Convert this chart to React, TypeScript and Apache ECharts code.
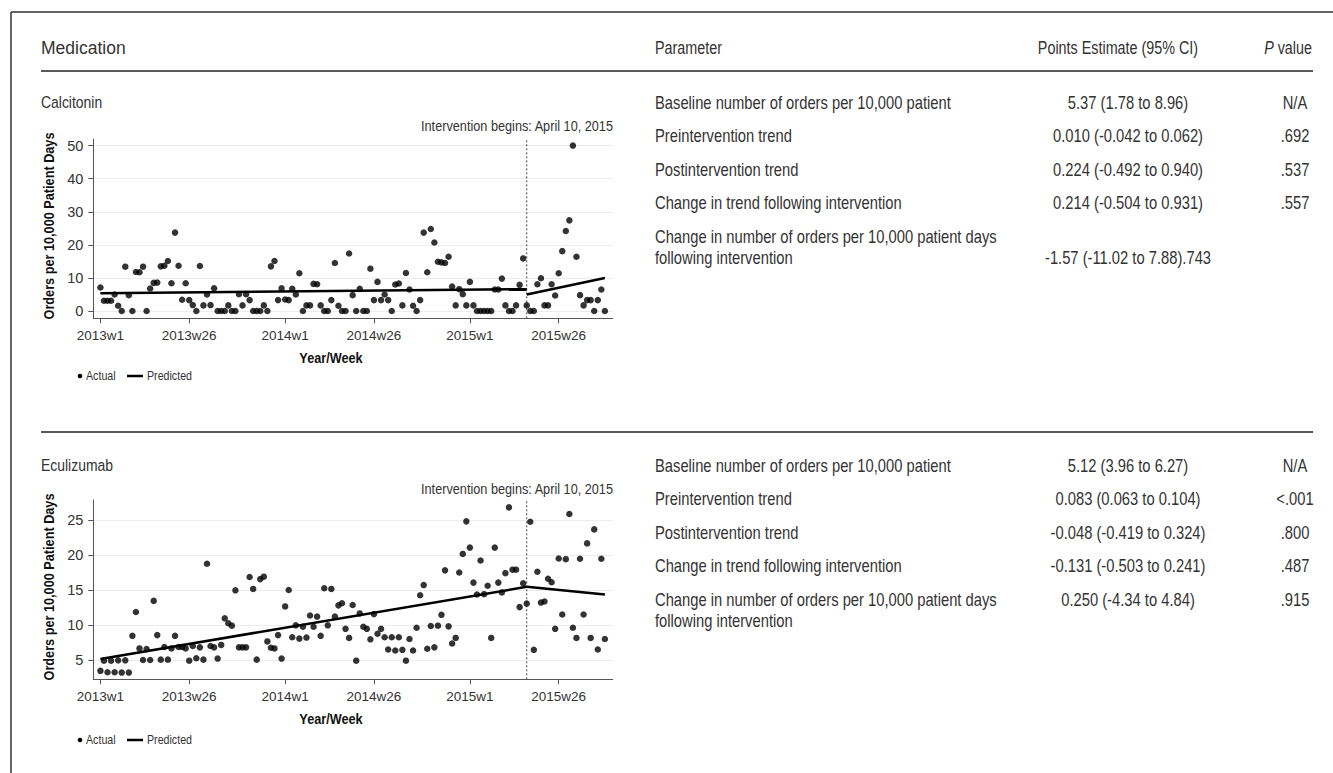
import React, { useEffect, useRef } from "react";
import * as echarts from "echarts";

// ---------- data ----------
const tickWeeks = [0, 25, 52, 77, 104, 129];
const tickLabels = ["2013w1", "2013w26", "2014w1", "2014w26", "2015w1", "2015w26"];
const interventionWeek = 120;

const calcYTicks = [0, 10, 20, 30, 40, 50];
const ecuYTicks = [5, 10, 15, 20, 25];

// weekly values, index 0 = 2013w1
const calcitoninActual = [
  7.1, 3.1, 3.1, 3.1, 5.0, 1.6, 0, 13.4, 4.8, 0, 11.8, 11.7, 13.4, 0, 6.8, 8.5, 8.6, 13.5, 13.7, 15.1,
  8.4, 23.7, 13.7, 3.4, 8.4, 3.3, 1.8, 0, 13.6, 1.7, 5.0, 1.8, 6.9, 0, 0, 0, 1.7, 0, 0, 5.1,
  1.7, 5.1, 3.3, 0, 0, 0, 1.7, 0, 13.5, 15.1, 3.3, 6.9, 3.5, 3.3, 6.7, 5.0, 11.4, 0, 1.7, 1.7,
  8.2, 8.1, 1.7, 0, 0, 3.3, 14.5, 1.6, 0, 0, 17.4, 4.8, 0, 6.7, 0, 0, 12.8, 3.3, 8.8, 3.3,
  5.0, 3.3, 0, 8.0, 8.3, 1.7, 11.5, 6.5, 1.6, 0, 3.3, 23.7, 11.7, 24.8, 20.7, 14.9, 14.7, 14.5, 16.4, 7.4,
  1.7, 6.6, 5.1, 1.7, 8.8, 1.7, 0, 0, 0, 0, 0, 6.5, 6.5, 9.8, 1.7, 0, 0, 1.7, 7.9, 15.9,
  1.7, 0, 0, 8.1, 9.9, 1.7, 1.7, 8.1, 4.7, 11.4, 18.1, 24.2, 27.4, 50.0, 16.4, 4.8, 1.7, 3.3, 3.3, 0,
  3.3, 6.5, 0,
];
const calcitoninPredPre = [[0, 5.4], [120, 6.6]];
const calcitoninPredPost = [[120, 5.0], [142, 10.0]];

const eculizumabActual = [
  3.5, 4.95, 3.3, 4.95, 3.3, 5.0, 3.25, 5.0, 3.25, 8.5, 11.9, 6.7, 5.05, 6.6, 5.05, 13.5, 8.6, 5.1, 6.9, 5.1,
  6.7, 8.5, 6.9, 6.9, 6.7, 4.95, 7.05, 5.3, 6.85, 5.1, 18.8, 7.05, 6.85, 5.25, 7.2, 11.0, 10.3, 9.95, 15.0, 6.85,
  6.85, 6.85, 16.9, 15.2, 5.1, 16.6, 16.95, 7.7, 6.8, 6.7, 8.6, 5.25, 12.7, 15.05, 8.3, 10.0, 8.1, 9.8, 8.25, 11.4,
  9.8, 11.25, 8.5, 15.3, 10.0, 15.2, 11.25, 12.85, 13.15, 9.5, 8.2, 12.9, 4.95, 11.7, 9.8, 9.5, 8.0, 11.6, 8.8, 9.5,
  8.3, 6.55, 8.3, 6.4, 8.3, 6.5, 4.95, 8.05, 6.4, 9.65, 14.3, 15.75, 6.65, 9.9, 6.85, 9.95, 11.5, 17.85, 9.85, 7.4,
  8.2, 17.55, 20.2, 24.85, 21.1, 16.1, 14.4, 19.25, 14.45, 15.65, 8.2, 21.1, 16.1, 14.7, 17.45, 26.85, 17.95, 17.95, 12.6, 16.0,
  13.1, 24.8, 6.5, 17.65, 13.25, 13.4, 16.65, 16.15, 9.5, 19.55, 11.55, 19.45, 25.9, 9.65, 8.2, 19.5, 11.55, 21.7, 8.2, 23.7,
  6.55, 19.5, 8.05,
];
const eculizumabPredPre = [[0, 5.2], [120, 15.5]];
const eculizumabPredPost = [[120, 15.5], [142, 14.4]];

const headers = ["Medication", "Parameter", "Points Estimate (95% CI)", "{i|P} value"];
const parameters = [
  "Baseline number of orders per 10,000 patient",
  "Preintervention trend",
  "Postintervention trend",
  "Change in trend following intervention",
  "Change in number of orders per 10,000 patient days\nfollowing intervention",
];
const calcEstimates = ["5.37 (1.78 to 8.96)", "0.010 (-0.042 to 0.062)", "0.224 (-0.492 to 0.940)", "0.214 (-0.504 to 0.931)", "-1.57 (-11.02 to 7.88).743"];
const calcP = ["N/A", ".692", ".537", ".557", ""];
const ecuEstimates = ["5.12 (3.96 to 6.27)", "0.083 (0.063 to 0.104)", "-0.048 (-0.419 to 0.324)", "-0.131 (-0.503 to 0.241)", "0.250 (-4.34 to 4.84)"];
const ecuP = ["N/A", "<.001", ".800", ".487", ".915"];

const FONT = "'Liberation Sans', Arial, Helvetica, sans-serif";
const TXT = "#333";
const NARROW_SCALE = 0.82;

function txt(x: number, y: number, text: string, size: number, opts: any = {}) {
  return {
    type: "text",
    x,
    y,
    rotation: opts.rotation || 0,
    scaleX: opts.regular ? 1 : NARROW_SCALE,
    silent: true,
    style: {
      text,
      fill: opts.fill || TXT,
      font: `${opts.weight || "normal"} ${size}px ${FONT}`,
      textAlign: opts.align || "left",
      textVerticalAlign: "middle",
      rich: opts.rich,
    },
  };
}

function line(x1: number, y1: number, x2: number, y2: number, w: number, color = "#222") {
  return { type: "line", silent: true, shape: { x1, y1, x2, y2 }, style: { stroke: color, lineWidth: w } };
}

export default function App() {
  const ref = useRef<HTMLDivElement>(null);
  useEffect(() => {
    if (!ref.current) return;
    const chart = echarts.init(ref.current, null, { renderer: "svg" });

    const gridLeft = 93.3;
    const gridW = 519.4;
    const xMin = -2;
    const xMax = 144.2;

    const mkX = (gi: number) => ({
      type: "value",
      gridIndex: gi,
      min: xMin,
      max: xMax,
      axisLine: { show: true, onZero: false, lineStyle: { color: "#555", width: 1 } },
      axisTick: { show: true, length: 5, lineStyle: { color: "#555" }, customValues: tickWeeks },
      axisLabel: {
        customValues: tickWeeks,
        formatter: (v: number) => tickLabels[tickWeeks.indexOf(Math.round(v))] || "",
        fontSize: 13.5,
        color: TXT,
        margin: 10,
        fontFamily: FONT,
      },
      splitLine: { show: false },
    });
    const mkY = (gi: number, min: number, max: number, ticks: number[]) => ({
      type: "value",
      gridIndex: gi,
      min,
      max,
      axisLine: { show: true, onZero: false, lineStyle: { color: "#555", width: 1 } },
      axisTick: { show: true, length: 5, lineStyle: { color: "#555" }, customValues: ticks },
      axisLabel: { customValues: ticks, fontSize: 14.5, color: TXT, margin: 10, fontFamily: FONT },
      splitLine: { show: true, lineStyle: { color: "#ececec", width: 1 } },
    });

    const scatter = (gi: number, vals: number[]) => ({
      type: "scatter",
      xAxisIndex: gi,
      yAxisIndex: gi,
      symbolSize: 6.5,
      itemStyle: { color: "#000" },
      data: vals.map((v, i) => [i, v]),
      z: 3,
    });
    const predLine = (gi: number, d: number[][]) => ({
      type: "line",
      xAxisIndex: gi,
      yAxisIndex: gi,
      symbol: "none",
      lineStyle: { color: "#000", width: 2.5 },
      data: d,
      z: 4,
    });
    const vLine = (gi: number, lo: number, hi: number) => ({
      type: "line",
      xAxisIndex: gi,
      yAxisIndex: gi,
      symbol: "none",
      lineStyle: { color: "#444", width: 1, type: [2, 2] },
      data: [[interventionWeek, lo], [interventionWeek, hi]],
      z: 2,
    });

    const topY = [-2.2, 51.9];
    const botY = [2.29, 27.9];

    const graphics: any[] = [];
    // frame
    graphics.push(line(11, 12, 1333, 12, 1.5, "#333"));
    graphics.push(line(11, 12, 11, 773, 1.5, "#333"));
    // header
    graphics.push(txt(41, 48, headers[0], 17.5, { regular: true }));
    graphics.push(txt(655, 48, headers[1], 17.5));
    graphics.push(txt(1118, 48, headers[2], 17.5, { align: "center" }));
    graphics.push(
      txt(1312, 48, headers[3], 17.5, {
        align: "right",
        rich: { i: { fontStyle: "italic", fontSize: 17.5, fontFamily: FONT, fill: TXT } },
      })
    );
    graphics.push(line(41, 71, 1313, 71, 1.5));
    graphics.push(line(41, 432, 1313, 432, 1.5));

    const sections = [
      { name: "Calcitonin", y0: 102, est: calcEstimates, p: calcP, lastOnSecond: true },
      { name: "Eculizumab", y0: 465, est: ecuEstimates, p: ecuP, lastOnSecond: false },
    ];
    const rowGap = 33.5;
    const BODY = 18;
    sections.forEach((s) => {
      graphics.push(txt(41, s.y0, s.name, 17));
      parameters.forEach((p, i) => {
        const y = s.y0 + i * rowGap;
        if (i === 4) {
          const [l1, l2] = p.split("\n");
          graphics.push(txt(655, y, l1, BODY));
          graphics.push(txt(655, y + 21, l2, BODY));
          const ey = s.lastOnSecond ? y + 21 : y;
          graphics.push(txt(1128, ey, s.est[i], BODY, { align: "center" }));
          if (s.p[i]) graphics.push(txt(1295, ey, s.p[i], BODY, { align: "center" }));
        } else {
          graphics.push(txt(655, y, p, BODY));
          graphics.push(txt(1128, y, s.est[i], BODY, { align: "center" }));
          graphics.push(txt(1295, y, s.p[i], BODY, { align: "center" }));
        }
      });
    });

    // chart annotations
    [0, 363].forEach((dy) => {
      graphics.push(txt(613, 126 + dy, "Intervention begins: April 10, 2015", 15.5, { align: "right" }));
    });
    [226, 587].forEach((cy) => {
      graphics.push(
        txt(49, cy, "Orders per 10,000 Patient Days", 15.5, {
          align: "center",
          weight: "bold",
          fill: "#111",
          rotation: Math.PI / 2,
        })
      );
    });
    [0, 361].forEach((dy) => {
      graphics.push(txt(331, 358 + dy, "Year/Week", 15.5, { align: "center", weight: "bold", fill: "#111" }));
    });
    [0, 364].forEach((dy) => {
      const y = 376 + dy;
      graphics.push({ type: "circle", silent: true, shape: { cx: 80, cy: y, r: 2.3 }, style: { fill: "#000" } });
      graphics.push(txt(86, y, "Actual", 13));
      graphics.push(line(127, y, 143, y, 2.5, "#000"));
      graphics.push(txt(147, y, "Predicted", 13));
    });

    chart.setOption({
      animation: false,
      backgroundColor: "#fff",
      textStyle: { fontFamily: FONT },
      grid: [
        { left: gridLeft, top: 139.3, width: gridW, height: 179 },
        { left: gridLeft, top: 500, width: gridW, height: 179.3 },
      ],
      xAxis: [mkX(0), mkX(1)],
      yAxis: [mkY(0, topY[0], topY[1], calcYTicks), mkY(1, botY[0], botY[1], ecuYTicks)],
      series: [
        vLine(0, topY[0], topY[1]),
        scatter(0, calcitoninActual),
        predLine(0, calcitoninPredPre),
        predLine(0, calcitoninPredPost),
        vLine(1, botY[0], botY[1]),
        scatter(1, eculizumabActual),
        predLine(1, eculizumabPredPre),
        predLine(1, eculizumabPredPost),
      ],
      graphic: graphics,
    });
    return () => chart.dispose();
  }, []);
  return (
    <div
      ref={ref}
      style={{ position: "fixed", left: 0, top: 0, width: 1333, height: 773, background: "#fff" }}
    />
  );
}
